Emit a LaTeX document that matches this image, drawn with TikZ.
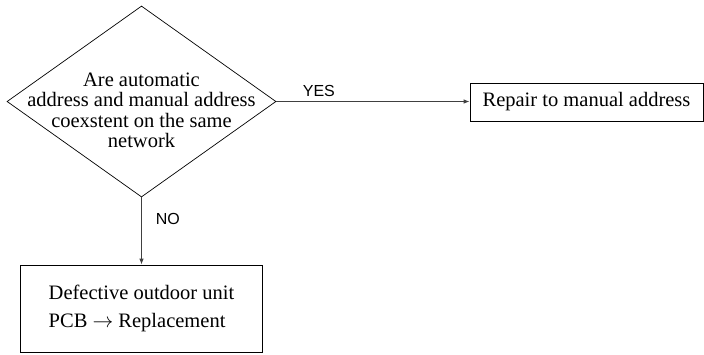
\documentclass[tikz,border=0pt]{standalone}
\usepackage{fontspec}
\setmainfont{Liberation Serif}
\setsansfont{Liberation Sans}
\usetikzlibrary{shapes.geometric, arrows.meta, positioning}
\tikzset{
  decide/.style={diamond, draw, line width=0.7pt, inner sep=0pt,
                 minimum width=269pt, minimum height=191pt},
  qtxt/.style={align=center, font=\fontsize{20.5}{20.5}\selectfont},
  act/.style={rectangle, draw, line width=0.8pt, inner sep=0pt,
              font=\fontsize{20.5}{28}\selectfont},
  ans/.style={font=\sffamily\fontsize{16}{16}\selectfont, text=black, inner sep=2pt},
  arr/.style={-{Latex[length=6pt, width=4.5pt]}, line width=0.8pt, black!75},
}
\begin{document}
\begin{tikzpicture}[x=1pt, y=-1pt]
  \useasboundingbox (0,0) rectangle (704,354);
  % question
  \node[decide] (q) at (141.5,101.5) {};
  \node[qtxt] (qtext) at ([yshift=-9pt]q.center)
    {Are automatic\\address and manual address\\coexstent on the same\\network};
  % actions
  \node[act, minimum width=233pt, minimum height=38pt] (repair) at (586.5,102)
    {Repair to manual address};
  \node[act, minimum width=242pt, minimum height=87pt, align=left] (pcb) at (141.5,308.5)
    {Defective outdoor unit\\PCB $\rightarrow$ Replacement};
  % branches
  \draw[arr] (q.east) -- (q.east -| repair.west)
    node[ans, pos=0.22, above=2pt] {YES};
  \draw[arr] (q.south) -- (pcb.north)
    node[ans, pos=0.32, right=12pt] {NO};
\end{tikzpicture}
\end{document}
